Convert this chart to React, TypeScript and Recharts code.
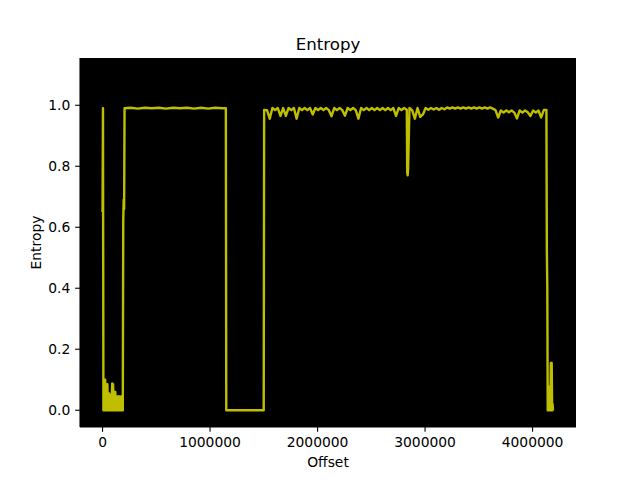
import React from 'react';
import { LineChart, Line, XAxis, YAxis, CartesianGrid } from 'recharts';

// Offsets (bytes) and entropy readings, grouped by region of the file.
const headOffsets = [
  0, 4096, 8192, 12288, 16384, 20480, 24576, 28672, 32768, 36864,
  40960, 45056, 49152, 53248, 57344, 61440, 65536, 69632, 73728, 77824,
  81920, 86016, 90112, 94208, 98304, 102400, 106496, 110592, 114688, 118784,
  122880, 126976, 131072, 135168, 139264, 143360, 147456, 151552, 155648, 159744,
  163840, 167936, 172032, 176128, 180224, 184320, 188416, 192512, 196608, 200704,
  204800,
];
const headEntropy = [
  0.65, 0.99, 0.0, 0.06, 0.0, 0.07, 0.1, 0.0, 0.06, 0.0,
  0.06, 0.085, 0.0, 0.05, 0.0, 0.055, 0.0, 0.05, 0.0, 0.05,
  0.0, 0.05, 0.088, 0.0, 0.085, 0.0, 0.05, 0.0, 0.06, 0.06,
  0.0, 0.045, 0.0, 0.045, 0.0, 0.045, 0.0, 0.045, 0.0, 0.045,
  0.0, 0.04, 0.0, 0.045, 0.0, 0.04, 0.0, 0.62, 0.69, 0.66,
  0.99,
];

const plateauOffsets = [
  262144, 327680, 393216, 458752, 524288, 589824, 655360, 720896, 786432, 851968,
  917504, 983040, 1048576, 1114112, 1146880, 1150976, 1499136,
];
const plateauEntropy = [
  0.992, 0.989, 0.992, 0.99, 0.992, 0.989, 0.992, 0.99, 0.992, 0.989,
  0.992, 0.989, 0.992, 0.99, 0.99, 0.0, 0.0,
];

const bodyOffsets = [
  1503232,
  1530000, 1555000, 1580000, 1605000, 1630000, 1655000, 1680000, 1705000, 1730000, 1755000,
  1780000, 1805000, 1830000, 1855000, 1880000, 1905000, 1930000, 1955000, 1980000, 2005000,
  2030000, 2055000, 2080000, 2105000, 2130000, 2155000, 2180000, 2205000, 2230000, 2255000,
  2280000, 2305000, 2330000, 2355000, 2380000, 2405000, 2430000, 2455000, 2480000, 2505000,
  2530000, 2555000, 2580000, 2605000, 2630000, 2655000, 2680000, 2705000, 2730000, 2755000,
  2780000, 2805000, 2830000, 2834000, 2838000, 2842000, 2855000, 2880000, 2905000, 2930000,
  2955000, 2980000, 3005000, 3030000, 3055000, 3080000, 3105000, 3130000, 3155000, 3180000,
  3205000, 3230000, 3255000, 3280000, 3305000, 3330000, 3355000, 3380000, 3405000, 3430000,
  3455000, 3480000, 3505000, 3530000, 3555000, 3580000, 3605000, 3630000, 3655000, 3680000,
  3705000, 3730000, 3755000, 3780000, 3805000, 3830000, 3855000, 3880000, 3905000, 3930000,
  3955000, 3980000, 4005000, 4030000, 4055000, 4080000, 4105000,
];
const bodyEntropy = [
  0.985,
  0.984, 0.956, 0.991, 0.984, 0.991, 0.965, 0.991, 0.965, 0.991, 0.984,
  0.991, 0.956, 0.991, 0.984, 0.991, 0.984, 0.991, 0.97, 0.991, 0.984,
  0.991, 0.984, 0.991, 0.984, 0.964, 0.991, 0.984, 0.991, 0.984, 0.966,
  0.991, 0.984, 0.991, 0.984, 0.956, 0.991, 0.984, 0.991, 0.984, 0.991,
  0.984, 0.991, 0.984, 0.991, 0.984, 0.991, 0.984, 0.991, 0.965, 0.991,
  0.984, 0.991, 0.985, 0.78, 0.77, 0.79, 0.991, 0.984, 0.956, 0.991,
  0.962, 0.97, 0.991, 0.985, 0.991, 0.986, 0.991, 0.985, 0.991, 0.987,
  0.993, 0.989, 0.993, 0.989, 0.993, 0.989, 0.993, 0.989, 0.993, 0.989,
  0.993, 0.989, 0.993, 0.989, 0.993, 0.989, 0.993, 0.989, 0.984, 0.96,
  0.983, 0.976, 0.983, 0.977, 0.983, 0.976, 0.957, 0.983, 0.976, 0.983,
  0.977, 0.965, 0.983, 0.976, 0.983, 0.96, 0.985,
];

const tailOffsets = [
  4128768, 4132864, 4136960, 4141056, 4145152, 4149248, 4153344, 4157440, 4161536, 4165632,
  4169728, 4173824, 4177920, 4182016, 4186112, 4190208, 4194304,
];
const tailEntropy = [
  0.985, 0.525, 0.404, 0.0, 0.08, 0.0, 0.07, 0.0, 0.03, 0.0,
  0.155, 0.0, 0.155, 0.0, 0.02, 0.0, 0.0,
];

const xTicks = [0, 1000000, 2000000, 3000000, 4000000];
const yTicks = [0, 0.2, 0.4, 0.6, 0.8, 1.0];

const offsets = [...headOffsets, ...plateauOffsets, ...bodyOffsets, ...tailOffsets];
const entropy = [...headEntropy, ...plateauEntropy, ...bodyEntropy, ...tailEntropy];
const data = offsets.map((offset, i) => ({ offset, entropy: entropy[i] }));

const FONT = 'DejaVu Sans';
const tickStyle = { fill: '#000', fontSize: 13.89, fontFamily: FONT };

export default function App() {
  return (
    <div style={{ position: 'absolute', left: 0, top: 0, width: 640, height: 480, background: '#fff' }}>
      <LineChart width={640} height={480} data={data} margin={{ top: 58, right: 64, bottom: 0, left: 0 }}>
        <CartesianGrid horizontal={false} vertical={false} fill="#000000" fillOpacity={1} stroke="none" />
        <XAxis
          type="number"
          dataKey="offset"
          domain={[-209715.2, 4404019.2]}
          allowDataOverflow
          ticks={xTicks}
          interval={0}
          height={53}
          tickSize={4.86}
          tickMargin={4.86}
          tick={tickStyle}
          tickLine={{ stroke: '#000', strokeWidth: 1.1 }}
          axisLine={{ stroke: '#000', strokeWidth: 1.1 }}
          tickFormatter={(v: number) => String(v)}
        />
        <YAxis
          type="number"
          domain={[-0.055, 1.155]}
          allowDataOverflow
          ticks={yTicks}
          interval={0}
          width={80}
          tickSize={4.86}
          tickMargin={4.86}
          tick={tickStyle}
          tickLine={{ stroke: '#000', strokeWidth: 1.1 }}
          axisLine={{ stroke: '#000', strokeWidth: 1.1 }}
          tickFormatter={(v: number) => v.toFixed(1)}
        />
        <Line
          type="linear"
          dataKey="entropy"
          stroke="#bfbf00"
          strokeWidth={2.4}
          strokeLinejoin="round"
          dot={false}
          activeDot={false}
          isAnimationActive={false}
        />
      </LineChart>
      <svg
        width={640}
        height={480}
        style={{ position: 'absolute', left: 0, top: 0, pointerEvents: 'none' }}
        fontFamily={FONT}
      >
        <text x={328} y={49.7} textAnchor="middle" fontSize={16.67} fill="#000">Entropy</text>
        <text x={328} y={467} textAnchor="middle" fontSize={13.89} fill="#000">Offset</text>
        <text transform="translate(41,242.5) rotate(-90)" textAnchor="middle" fontSize={13.89} fill="#000">Entropy</text>
      </svg>
    </div>
  );
}
